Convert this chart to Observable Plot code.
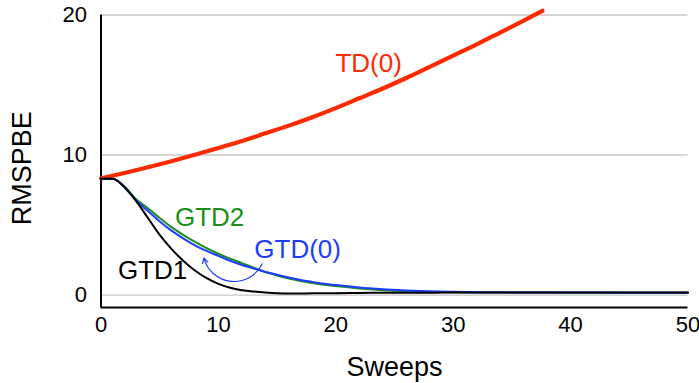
<!DOCTYPE html>
<html>
<head>
<meta charset="utf-8">
<script src="https://cdn.jsdelivr.net/npm/d3@7"></script>
<script src="https://cdn.jsdelivr.net/npm/@observablehq/plot@0.6"></script>
<style>
  html, body { margin: 0; padding: 0; background: #fff; }
</style>
</head>
<body>
<div id="chart"></div>
<script>
// ---- data ----
const gtdSweeps = [0,1,2,3,4,5,6,7,8,9,10,11,12,13,14,15,16,17,18,19,20,22,24,26,28,30,35,40,45,50];
const gtd1  = [8.3,8.3,7.7,6.7,5.5,4.3,3.3,2.45,1.75,1.2,0.8,0.52,0.35,0.25,0.18,0.13,0.11,0.11,0.12,0.12,0.13,0.15,0.16,0.17,0.17,0.18,0.18,0.18,0.18,0.18];
const gtd2  = [8.3,8.3,7.75,6.85,6.2,5.5,4.85,4.3,3.8,3.35,2.95,2.6,2.28,1.95,1.65,1.4,1.18,1.0,0.86,0.74,0.64,0.47,0.35,0.27,0.22,0.2,0.18,0.17,0.17,0.17];
const gtd0  = [8.3,8.3,7.7,6.75,6.0,5.25,4.6,4.05,3.55,3.15,2.8,2.45,2.15,1.9,1.65,1.45,1.25,1.08,0.94,0.81,0.71,0.54,0.42,0.33,0.27,0.23,0.19,0.18,0.17,0.17];
const tdSweeps = [0,2,4,6,8,10,12,14,16,18,20,22,24,26,28,30,32,34,36,37.6];
const td0      = [8.33,8.72,9.13,9.56,10.02,10.5,11.0,11.55,12.1,12.7,13.35,14.05,14.75,15.5,16.3,17.1,17.9,18.75,19.6,20.3];

const xTicks = [0,10,20,30,40,50];
const yTicks = [0,10,20];
const xDomain = [0,50];
const yDomain = [-0.89,20];

const seriesNames = ["TD(0)","GTD2","GTD(0)","GTD1"];
const labelX = [22.8, 9.25, 16.75, 4.4];
const labelY = [16.55, 5.55, 3.25, 1.75];

// annotation arrow (GTD(0) label pointing at its curve)
const arrowFrom = [13.73, 2.23];
const arrowTo   = [8.77, 2.64];

// ---- build tables ----
const colors = {"TD(0)": "#ff2a00", "GTD2": "#1a8f1a", "GTD(0)": "#1e3cff", "GTD1": "#000000"};
const toRows = (xs, ys) => xs.map((x, i) => ({x, y: ys[i]}));
const tdRows = toRows(tdSweeps, td0);
const g2Rows = toRows(gtdSweeps, gtd2);
const g0Rows = toRows(gtdSweeps, gtd0);
const g1Rows = toRows(gtdSweeps, gtd1);
const labels = seriesNames.map((name, i) => ({name, x: labelX[i], y: labelY[i]}));
const arrows = [{x1: arrowFrom[0], y1: arrowFrom[1], x2: arrowTo[0], y2: arrowTo[1]}];

const chart = Plot.plot({
  width: 699,
  height: 383,
  marginLeft: 100.5,
  marginRight: 11.5,
  marginTop: 14.5,
  marginBottom: 76,
  x: {domain: xDomain},
  y: {domain: yDomain},
  style: {fontFamily: "'Liberation Sans', Arial, Helvetica, sans-serif", background: "#fff", color: "#000"},
  marks: [
    Plot.ruleY(yTicks, {stroke: "#c8c8c8", strokeWidth: 1.3}),
    Plot.ruleY([yDomain[0]], {stroke: "#000", strokeWidth: 2}),
    Plot.ruleX([xDomain[0]], {y1: yDomain[0], y2: yDomain[1], stroke: "#000", strokeWidth: 2}),
    Plot.axisX({ticks: xTicks, tickSize: 0, tickPadding: 9, fontSize: 22, label: null}),
    Plot.axisY({ticks: yTicks, tickSize: 0, tickPadding: 14, fontSize: 22, label: null}),
    Plot.text(["RMSPBE"], {frameAnchor: "left", textAnchor: "middle", lineAnchor: "middle", rotate: -90, dx: -79, dy: 7, fontSize: 27, fill: "#000"}),
    Plot.text(["Sweeps"], {frameAnchor: "bottom", textAnchor: "middle", lineAnchor: "middle", dy: 60, fontSize: 27, fill: "#000"}),
    Plot.line(tdRows, {x: "x", y: "y", stroke: colors["TD(0)"], strokeWidth: 4.2, curve: "monotone-x"}),
    Plot.line(g2Rows, {x: "x", y: "y", stroke: colors["GTD2"], strokeWidth: 2, curve: "monotone-x"}),
    Plot.line(g0Rows, {x: "x", y: "y", stroke: colors["GTD(0)"], strokeWidth: 2, curve: "monotone-x"}),
    Plot.line(g1Rows, {x: "x", y: "y", stroke: colors["GTD1"], strokeWidth: 2, curve: "monotone-x"}),
    Plot.arrow(arrows, {x1: "x1", y1: "y1", x2: "x2", y2: "y2", bend: 70, stroke: colors["GTD(0)"], strokeWidth: 1.2, headLength: 7}),
    Plot.text(labels, {x: "x", y: "y", text: "name", fill: d => colors[d.name], fontSize: 26})
  ]
});
document.getElementById("chart").appendChild(chart);
</script>
</body>
</html>
